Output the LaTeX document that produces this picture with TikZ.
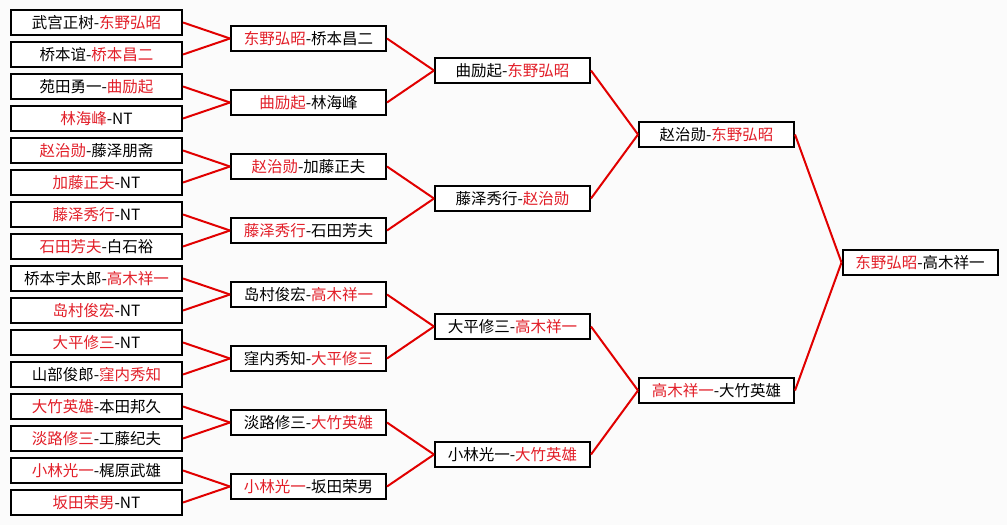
\documentclass[tikz,border=0pt]{standalone}
\usepackage{fontspec}
\usepackage{xcolor}
\usetikzlibrary{positioning}
\newfontfamily\cjk{Noto Sans CJK SC}
\definecolor{winred}{RGB}{226,30,40}
\definecolor{linkred}{RGB}{225,0,0}
\newcommand{\win}[1]{\textcolor{winred}{#1}}

\begin{document}
\begin{tikzpicture}[
    x=1pt, y=-1pt,
    game/.style={rectangle, draw=black, line width=2pt, fill=white, minimum height=25pt, inner sep=0pt, font=\cjk\fontsize{15.5}{18}\selectfont},
    first/.style={game, minimum width=171pt},
    later/.style={game, minimum width=155pt},
    link/.style={draw=linkred, line width=2pt}
]
\useasboundingbox[fill={rgb,255:red,251;green,251;blue,251}] (0,0) rectangle (1007,525);

% Round 1
\node[first] (a1)  at (96.5, 22.5)  {武宫正树-\win{东野弘昭}};
\node[first] (a2)  at (96.5, 54.5)  {桥本谊-\win{桥本昌二}};
\node[first] (a3)  at (96.5, 86.5)  {苑田勇一-\win{曲励起}};
\node[first] (a4)  at (96.5, 118.5) {\win{林海峰}-NT};
\node[first] (a5)  at (96.5, 150.5) {\win{赵治勋}-藤泽朋斋};
\node[first] (a6)  at (96.5, 182.5) {\win{加藤正夫}-NT};
\node[first] (a7)  at (96.5, 214.5) {\win{藤泽秀行}-NT};
\node[first] (a8)  at (96.5, 246.5) {\win{石田芳夫}-白石裕};
\node[first] (a9)  at (96.5, 278.5) {桥本宇太郎-\win{高木祥一}};
\node[first] (a10) at (96.5, 310.5) {\win{岛村俊宏}-NT};
\node[first] (a11) at (96.5, 342.5) {\win{大平修三}-NT};
\node[first] (a12) at (96.5, 374.5) {山部俊郎-\win{窪内秀知}};
\node[first] (a13) at (96.5, 406.5) {\win{大竹英雄}-本田邦久};
\node[first] (a14) at (96.5, 438.5) {\win{淡路修三}-工藤纪夫};
\node[first] (a15) at (96.5, 470.5) {\win{小林光一}-梶原武雄};
\node[first] (a16) at (96.5, 502.5) {\win{坂田荣男}-NT};

% Round 2
\node[later] (b1) at (308.5, 38.5)  {\win{东野弘昭}-桥本昌二};
\node[later] (b2) at (308.5, 102.5) {\win{曲励起}-林海峰};
\node[later] (b3) at (308.5, 166.5) {\win{赵治勋}-加藤正夫};
\node[later] (b4) at (308.5, 230.5) {\win{藤泽秀行}-石田芳夫};
\node[later] (b5) at (308.5, 294.5) {岛村俊宏-\win{高木祥一}};
\node[later] (b6) at (308.5, 358.5) {窪内秀知-\win{大平修三}};
\node[later] (b7) at (308.5, 422.5) {淡路修三-\win{大竹英雄}};
\node[later] (b8) at (308.5, 486.5) {\win{小林光一}-坂田荣男};

% Round 3
\node[later] (c1) at (512.5, 70.5)  {曲励起-\win{东野弘昭}};
\node[later] (c2) at (512.5, 198.5) {藤泽秀行-\win{赵治勋}};
\node[later] (c3) at (512.5, 326.5) {大平修三-\win{高木祥一}};
\node[later] (c4) at (512.5, 454.5) {小林光一-\win{大竹英雄}};

% Semifinals
\node[later] (d1) at (716.5, 134.5) {赵治勋-\win{东野弘昭}};
\node[later] (d2) at (716.5, 390.5) {\win{高木祥一}-大竹英雄};

% Final
\node[later] (e) at (920, 262.5) {\win{东野弘昭}-高木祥一};

% Connectors
\draw[link] (a1.east) -- (b1.west);
\draw[link] (a2.east) -- (b1.west);
\draw[link] (a3.east) -- (b2.west);
\draw[link] (a4.east) -- (b2.west);
\draw[link] (a5.east) -- (b3.west);
\draw[link] (a6.east) -- (b3.west);
\draw[link] (a7.east) -- (b4.west);
\draw[link] (a8.east) -- (b4.west);
\draw[link] (a9.east) -- (b5.west);
\draw[link] (a10.east) -- (b5.west);
\draw[link] (a11.east) -- (b6.west);
\draw[link] (a12.east) -- (b6.west);
\draw[link] (a13.east) -- (b7.west);
\draw[link] (a14.east) -- (b7.west);
\draw[link] (a15.east) -- (b8.west);
\draw[link] (a16.east) -- (b8.west);

\draw[link] (b1.east) -- (c1.west);
\draw[link] (b2.east) -- (c1.west);
\draw[link] (b3.east) -- (c2.west);
\draw[link] (b4.east) -- (c2.west);
\draw[link] (b5.east) -- (c3.west);
\draw[link] (b6.east) -- (c3.west);
\draw[link] (b7.east) -- (c4.west);
\draw[link] (b8.east) -- (c4.west);

\draw[link] (c1.east) -- (d1.west);
\draw[link] (c2.east) -- (d1.west);
\draw[link] (c3.east) -- (d2.west);
\draw[link] (c4.east) -- (d2.west);

\draw[link] (d1.east) -- (e.west);
\draw[link] (d2.east) -- (e.west);

\end{tikzpicture}
\end{document}
